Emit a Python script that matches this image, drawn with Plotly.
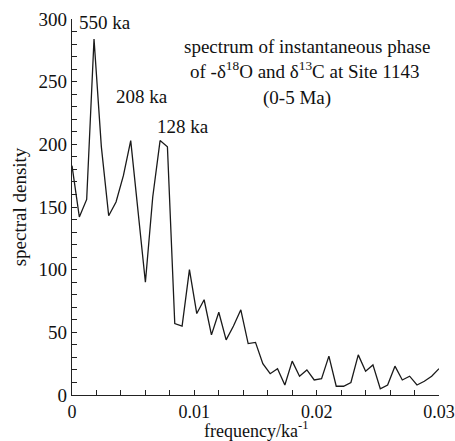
import plotly.graph_objects as go

freq_step = 0.0006
density = [183, 142, 156, 284, 198, 143, 154, 175, 203, 147,
           90, 158, 203, 198, 57, 55, 100, 65, 76, 48,
           66, 44, 55, 68, 41, 42, 25, 17, 21, 8,
           27, 15, 20, 12, 13, 31, 7, 7, 10, 32,
           19, 24, 5, 8, 23, 12, 15, 8, 11, 15, 21]
frequency = [round(i * freq_step, 4) for i in range(len(density))]

x_ticks = [0, 0.01, 0.02, 0.03]
x_ticklabels = ["0", "0.01", "0.02", "0.03"]
y_ticks = [0, 50, 100, 150, 200, 250, 300]

peak_labels = ["550 ka", "208 ka", "128 ka"]
title_lines = ["spectrum of instantaneous phase",
               "of -δ<sup>18</sup>O and δ<sup>13</sup>C at Site 1143",
               "(0-5 Ma)"]
x_title = "frequency/ka<sup>-1</sup>"
y_title = "spectral density"

FONT = "Liberation Serif"

fig = go.Figure()
fig.add_trace(go.Scatter(x=frequency, y=density, mode="lines",
                         line=dict(color="#1a1a1a", width=1.3),
                         hoverinfo="skip", showlegend=False))

ann = []
peak_pos = [(0.09, 0.992), (0.19, 0.793), (0.302, 0.713)]
for t, (px, py) in zip(peak_labels, peak_pos):
    ann.append(dict(text=t, x=px, y=py, xref="paper", yref="paper",
                    showarrow=False, xanchor="center", yanchor="middle",
                    font=dict(size=19, family=FONT, color="#111")))
title_pos = [(0.64, 0.926), (0.635, 0.864), (0.613, 0.79)]
for t, (px, py) in zip(title_lines, title_pos):
    ann.append(dict(text=t, x=px, y=py, xref="paper", yref="paper",
                    showarrow=False, xanchor="center", yanchor="middle",
                    font=dict(size=19, family=FONT, color="#111")))
ann.append(dict(text=x_title, x=0.5, y=-0.092, xref="paper", yref="paper",
                showarrow=False, xanchor="center", yanchor="middle",
                font=dict(size=18, family=FONT, color="#111")))

fig.update_layout(
    width=455, height=441,
    margin=dict(l=72, r=16, t=19, b=46),
    paper_bgcolor="white", plot_bgcolor="white",
    font=dict(family=FONT, size=19, color="#111"),
    annotations=ann,
    xaxis=dict(range=[0, 0.03], tickvals=x_ticks, ticktext=x_ticklabels,
               ticklabeloverflow="allow", automargin=False,
               showline=True, linecolor="#222", linewidth=1.3,
               ticks="inside", ticklen=5, tickwidth=1, tickcolor="#222",
               minor=dict(dtick=0.002, ticks="inside", ticklen=5, tickcolor="#222", tickwidth=1),
               showgrid=False, zeroline=False,
               tickfont=dict(size=18, family=FONT)),
    yaxis=dict(range=[0, 300], tickvals=y_ticks, automargin=False,
               showline=True, linecolor="#222", linewidth=1.3,
               ticks="inside", ticklen=5, tickwidth=1, tickcolor="#222",
               minor=dict(dtick=10, ticks="inside", ticklen=5, tickcolor="#222", tickwidth=1),
               showgrid=False, zeroline=False,
               tickfont=dict(size=19, family=FONT),
               title=dict(text=y_title, standoff=6, font=dict(size=19, family=FONT))),
)

fig.write_html("out.html", config={"displayModeBar": False},
               post_script="document.body.style.margin='0';document.body.style.overflow='hidden';")
